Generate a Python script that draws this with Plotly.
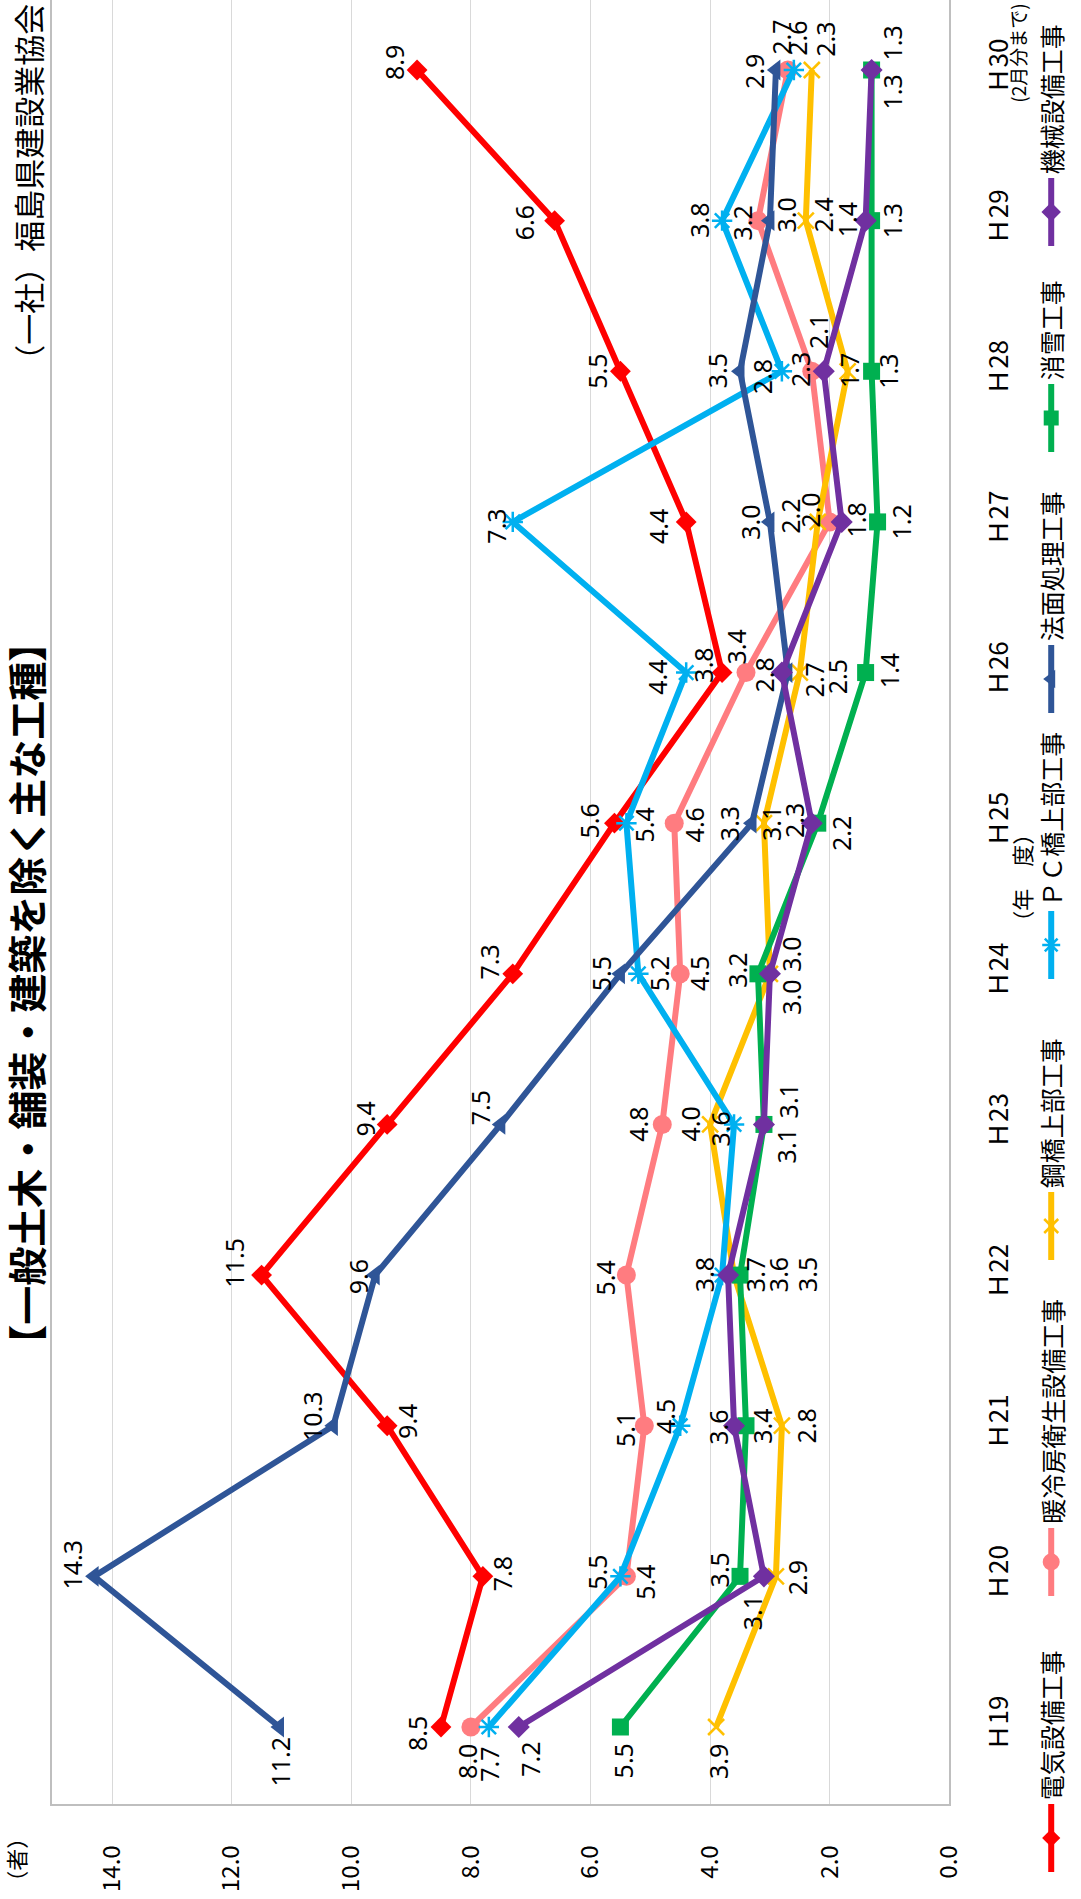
import plotly.graph_objects as go

W, H = 1081, 1899

# ---- data -------------------------------------------------------------
years = ["Ｈ19", "Ｈ20", "Ｈ21", "Ｈ22", "Ｈ23", "Ｈ24",
         "Ｈ25", "Ｈ26", "Ｈ27", "Ｈ28", "Ｈ29", "Ｈ30"]
last_year_note = "(2月分まで)"

denki = [8.5, 7.8, 9.4, 11.5, 9.4, 7.3, 5.6, 3.8, 4.4, 5.5, 6.6, 8.9]
danreibo = [8.0, 5.4, 5.1, 5.4, 4.8, 4.5, 4.6, 3.4, 2.0, 2.3, 3.2, 2.7]
kokyo = [3.9, 2.9, 2.8, 3.6, 4.0, 3.0, 3.1, 2.5, 2.2, 1.7, 2.4, 2.3]
pc_kyo = [7.7, 5.5, 4.5, 3.8, 3.6, 5.2, 5.4, 4.4, 7.3, 2.8, 3.8, 2.6]
norimen = [11.2, 14.3, 10.3, 9.6, 7.5, 5.5, 3.3, 2.7, 3.0, 3.5, 3.0, 2.9]
shosetsu = [5.5, 3.5, 3.4, 3.5, 3.1, 3.2, 2.2, 1.4, 1.2, 1.3, 1.3, 1.3]
kikai = [7.2, 3.1, 3.6, 3.7, 3.1, 3.0, 2.3, 2.8, 1.8, 2.1, 1.4, 1.3]

value_ticks = [0, 2, 4, 6, 8, 10, 12, 14]

# ---- styles -----------------------------------------------------------
series = [
    dict(name="電気設備工事", values=denki, color="#FF0000",
         symbol="diamond", size=16, lw=0),
    dict(name="暖冷房衛生設備工事", values=danreibo, color="#FF7C80",
         symbol="circle", size=19, lw=0),
    dict(name="鋼橋上部工事", values=kokyo, color="#FFC000",
         symbol="x-thin-open", size=16, lw=2.5),
    dict(name="ＰＣ橋上部工事", values=pc_kyo, color="#00B0F0",
         symbol="asterisk-open", size=17, lw=2.5),
    dict(name="法面処理工事", values=norimen, color="#2F5597",
         symbol="triangle-left", size=18, lw=0),
    dict(name="消雪工事", values=shosetsu, color="#00B050",
         symbol="square", size=17, lw=0),
    dict(name="機械設備工事", values=kikai, color="#7030A0",
         symbol="diamond", size=17, lw=0),
]

# data-label offsets (pixels, right / down) for each series, per year
label_offsets = [
    [(-24, 6), (19, -3), (20, -4), (-27, -12), (-22, -5), (-24, -12),
     (-25, -2), (-20, -7), (-28, 5), (-23, 0), (-31, 2), (-23, -7)],
    [(-4, 34), (19, 6), (-20, 4), (-21, 3), (-24, 0), (19, 0),
     (20, 2), (-10, -25), (-20, -12), (-12, -2), (-16, 2), (-7, -33)],
    [(2, 35), (21, 1), (24, 0), (44, 0), (-20, 0), (21, 23),
     (7, 0), (37, 4), (-28, -6), (2, -1), (17, -6), (13, -31)],
    [(0, 37), (-23, -4), (-15, -9), (-18, 0), (-14, 5), (20, 0),
     (18, 2), (-30, 5), (-17, 4), (-20, 5), (-23, 0), (3, -32)],
    [(0, 35), (-22, -12), (-22, -10), (-17, 2), (-20, -17), (-20, 0),
     (-23, 0), (26, 7), (-20, 0), (-23, 0), (16, -6), (-22, 1)],
    [(3, 34), (-21, -6), (16, 1), (67, 0), (25, -24), (-21, -4),
     (23, 10), (23, -2), (23, 0), (17, 0), (20, 0), (20, -27)],
    [(11, 32), (-12, 36), (-16, 2), (27, 0), (23, 21), (21, -20),
     (-18, -3), (-18, 2), (14, -2), (-5, -40), (-19, -1), (20, 22)],
]

# legend entry marker centres (figure pixels, bottom to top)
legend_x = 1066
legend_y = [1838, 1562, 1226, 945, 679, 418, 212]
legend_half = 34

JP = "Noto Sans CJK JP"
NUM = "Noto Sans"

# ---- plot geometry ----------------------------------------------------
plot_left, plot_right, plot_top, plot_bottom = 53, 962.7, 0, 1804
first_cat_px, last_cat_px = 1727, 70
cat_step = (first_cat_px - last_cat_px) / (len(years) - 1)
y_hi = (len(years) - 1) + (last_cat_px - plot_top) / cat_step
y_lo = -(plot_bottom - first_cat_px) / cat_step

fig = go.Figure()
idx = list(range(len(years)))

for s in series:
    fig.add_trace(go.Scatter(
        x=s["values"], y=idx, mode="lines+markers", name=s["name"],
        line=dict(color=s["color"], width=6),
        marker=dict(symbol=s["symbol"], size=s["size"], color=s["color"],
                    line=dict(color=s["color"], width=s["lw"])),
        showlegend=False, xaxis="x", yaxis="y", cliponaxis=False,
    ))

# data labels, rotated with the chart
annotations = []
for s, offs in zip(series, label_offsets):
    for i, (v, (dx, dy)) in enumerate(zip(s["values"], offs)):
        annotations.append(dict(
            x=v, y=i, xref="x", yref="y", text=f"{v:.1f}",
            showarrow=False, textangle=-90, xshift=dx, yshift=-dy,
            xanchor="center", yanchor="middle",
            font=dict(family=NUM, size=25, color="#000000"),
        ))

# legend drawn in figure pixel space (rotated layout)
for s, ly in zip(series, legend_y):
    fig.add_trace(go.Scatter(
        x=[legend_x, legend_x, legend_x],
        y=[ly + legend_half, ly, ly - legend_half],
        mode="lines", line=dict(color=s["color"], width=6),
        showlegend=False, xaxis="x2", yaxis="y2", hoverinfo="skip",
        cliponaxis=False,
    ))
    fig.add_trace(go.Scatter(
        x=[legend_x], y=[ly], mode="markers",
        marker=dict(symbol=s["symbol"], size=s["size"] - 2, color=s["color"],
                    line=dict(color=s["color"], width=s["lw"])),
        showlegend=False, xaxis="x2", yaxis="y2", hoverinfo="skip",
        cliponaxis=False,
    ))
    annotations.append(dict(
        x=legend_x / W, y=1 - (ly - legend_half - 2) / H,
        xref="paper", yref="paper", text=s["name"], showarrow=False,
        textangle=-90, xanchor="center", yanchor="bottom",
        font=dict(family=JP, size=25, color="#000000"),
    ))


def note(text, cx, cy, size, bold=False):
    """Rotated free text centred on a figure-pixel position."""
    return dict(x=cx / W, y=1 - cy / H, xref="paper", yref="paper",
                text=f"<b>{text}</b>" if bold else text, showarrow=False,
                textangle=-90, xanchor="center", yanchor="middle",
                font=dict(family=JP, size=size, color="#000000"))


annotations += [
    note("【一般土木・舗装・建築を除く主な工種】", 25, 993, 39, bold=True),
    note("（一社）福島県建設業協会", 27, 190, 31),
    note("（者）", 15, 1860, 22),
    note("（年　度）", 1035, 878, 22),
    # note under the last fiscal year tick
    dict(x=1031 / W, y=len(years) - 1, xref="paper", yref="y",
         text=last_year_note, showarrow=False, textangle=-90,
         xanchor="center", yanchor="middle", yshift=17,
         font=dict(family=JP, size=19, color="#000000")),
]

fig.update_layout(
    width=W, height=H,
    margin=dict(l=0, r=0, t=0, b=0),
    paper_bgcolor="#FFFFFF", plot_bgcolor="rgba(0,0,0,0)",
    showlegend=False,
    xaxis=dict(
        domain=[plot_left / W, plot_right / W], anchor="y",
        range=[15, 0], tickvals=value_ticks, tickformat=".1f",
        tickangle=-90, tickfont=dict(family=JP, size=24, color="#000000"),
        showgrid=True, gridcolor="#D9D9D9", gridwidth=1,
        zeroline=False, showline=True, linecolor="#BFBFBF", linewidth=1.5,
        ticks="", ticklabelstandoff=30,
    ),
    yaxis=dict(
        domain=[1 - plot_bottom / H, 1 - plot_top / H], anchor="x",
        range=[y_lo, y_hi], tickvals=idx, ticktext=years,
        side="right", tickangle=-90,
        tickfont=dict(family=JP, size=26, color="#000000"),
        showgrid=False, zeroline=False, showline=True, mirror=True,
        linecolor="#BFBFBF", linewidth=1.5, ticks="", ticklabelstandoff=26,
    ),
    xaxis2=dict(domain=[0, 1], range=[0, W], visible=False, anchor="y2"),
    yaxis2=dict(domain=[0, 1], range=[H, 0], visible=False, anchor="x2"),
    annotations=annotations,
)

fig.write_html("out.html")
